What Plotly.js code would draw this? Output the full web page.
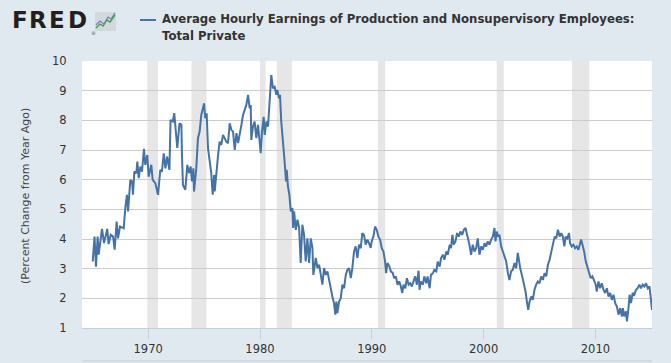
<!DOCTYPE html>
<html>
<head>
<meta charset="utf-8">
<script src="https://cdn.plot.ly/plotly-3.0.1.min.js"></script>
<style>
html,body{margin:0;padding:0;background:#e1e9f0;}
#chart{width:671px;height:363px;}
</style>
</head>
<body>
<div id="chart"></div>
<script>
// Dates as decimal years, values in percent change from year ago
const years = [
1965.04,1965.2,1965.33,1965.48,1965.57,1965.87,1966.05,1966.34,1966.46,1966.65,1966.86,1967.0,1967.18,1967.3,1967.48,1967.81,1967.95,
1968.1,1968.2,1968.4,1968.55,1968.64,1968.76,1968.94,1969.03,1969.15,1969.3,1969.45,1969.62,1969.74,1969.92,1970.04,1970.28,1970.4,
1970.64,1970.88,1971.08,1971.23,1971.39,1971.54,1971.69,1971.9,1972.0,1972.2,1972.33,1972.48,1972.6,1972.8,1972.97,1973.02,1973.11,
1973.32,1973.5,1973.65,1973.8,1973.92,1974.04,1974.1,1974.2,1974.3,1974.45,1974.6,1974.75,1974.9,1975.0,1975.1,1975.23,1975.35,1975.5,
1975.64,1975.77,1975.9,1975.95,1976.1,1976.25,1976.39,1976.54,1976.69,1976.84,1976.99,1977.14,1977.29,1977.44,1977.59,1977.74,1977.89,
1978.04,1978.19,1978.34,1978.48,1978.63,1978.78,1978.93,1979.08,1979.17,1979.22,1979.37,1979.52,1979.67,1979.82,1979.97,1980.06,1980.18,
1980.33,1980.42,1980.57,1980.72,1980.87,1981.01,1981.16,1981.31,1981.46,1981.55,1981.7,1981.79,1981.9,1982.0,1982.09,1982.18,1982.33,
1982.39,1982.5,1982.63,1982.75,1982.9,1982.96,1983.05,1983.2,1983.35,1983.5,1983.64,1983.79,1983.94,1984.09,1984.24,1984.39,1984.54,
1984.69,1984.77,1984.99,1985.14,1985.29,1985.43,1985.58,1985.73,1985.88,1986.03,1986.18,1986.33,1986.47,1986.62,1986.74,1986.83,1986.92,
1987.07,1987.22,1987.37,1987.52,1987.67,1987.82,1987.97,1988.12,1988.26,1988.41,1988.56,1988.71,1988.86,1989.01,1989.15,1989.3,1989.45,
1989.6,1989.75,1989.9,1989.99,1990.14,1990.29,1990.44,1990.59,1990.74,1990.89,1991.04,1991.19,1991.28,1991.4,1991.58,1991.7,1991.88,
1992.0,1992.15,1992.3,1992.45,1992.6,1992.72,1992.84,1992.99,1993.14,1993.29,1993.43,1993.58,1993.73,1993.88,1994.03,1994.18,1994.27,
1994.39,1994.57,1994.69,1994.87,1994.99,1995.17,1995.29,1995.47,1995.59,1995.77,1995.89,1996.07,1996.19,1996.37,1996.49,1996.67,1996.79,
1996.97,1997.09,1997.21,1997.33,1997.48,1997.63,1997.78,1997.93,1998.08,1998.23,1998.38,1998.58,1998.73,1998.88,1999.03,1999.18,1999.33,
1999.48,1999.63,1999.78,1999.93,2000.08,2000.23,2000.37,2000.52,2000.67,2000.82,2000.97,2001.06,2001.18,2001.3,2001.42,2001.57,2001.72,
2001.87,2002.02,2002.17,2002.31,2002.46,2002.61,2002.76,2002.91,2003.06,2003.15,2003.27,2003.45,2003.57,2003.75,2003.87,2003.99,2004.11,
2004.26,2004.4,2004.55,2004.7,2004.85,2005.0,2005.15,2005.3,2005.45,2005.6,2005.75,2005.9,2006.05,2006.2,2006.35,2006.5,2006.65,2006.8,
2006.94,2007.09,2007.22,2007.34,2007.49,2007.64,2007.73,2007.88,2008.03,2008.18,2008.33,2008.48,2008.63,2008.72,2008.84,2008.99,2009.14,
2009.29,2009.44,2009.58,2009.73,2009.88,2010.03,2010.12,2010.27,2010.42,2010.57,2010.72,2010.87,2011.02,2011.17,2011.32,2011.47,2011.62,
2011.77,2011.92,2012.07,2012.22,2012.37,2012.46,2012.58,2012.73,2012.82,2012.97,2013.06,2013.18,2013.33,2013.48,2013.63,2013.78,2013.93,
2014.08,2014.23,2014.38,2014.53,2014.68,2014.83,2014.92,2014.98,2015.06
];
const pctChange = [
3.24,4.08,3.07,4.08,3.47,4.34,3.86,4.34,3.83,4.14,4.08,3.64,4.59,4.02,4.42,4.36,5.04,
5.49,4.93,5.99,5.94,5.49,6.27,6.22,6.61,6.05,6.44,6.27,7.04,6.5,6.83,6.1,6.5,5.99,
5.88,5.49,6.33,6.27,6.89,6.38,6.78,6.33,8.01,7.96,8.24,7.4,7.07,7.9,7.85,6.83,5.82,
5.66,6.5,6.22,6.44,5.94,6.38,5.6,5.94,6.38,7.4,7.62,8.18,8.46,8.57,8.07,8.24,7.06,6.61,
6.22,5.49,6.16,5.6,6.38,6.83,7.28,7.17,7.51,7.4,7.28,7.23,7.9,7.68,7.62,7.0,7.57,
7.23,7.62,7.85,8.18,8.35,8.52,8.86,8.4,8.52,7.34,7.79,7.96,7.4,7.85,7.28,6.89,7.62,
8.12,7.51,7.96,7.79,8.74,9.53,9.08,9.13,8.86,9.02,8.74,8.86,7.96,7.4,7.06,6.72,5.94,
6.33,5.77,5.49,4.93,5.04,4.37,4.93,4.31,4.65,4.37,3.19,4.48,4.14,3.24,4.02,3.19,4.02,
3.69,2.79,3.36,3.02,3.13,2.79,2.46,3.02,2.79,2.91,2.57,2.34,2.06,1.84,1.45,1.89,1.5,
1.89,2.0,2.46,2.34,2.79,2.96,3.02,2.68,3.02,3.58,3.75,3.36,3.81,3.69,4.2,4.14,3.81,
3.98,3.86,3.7,3.92,4.08,4.42,4.31,4.08,3.98,3.69,3.58,3.24,2.85,3.19,3.07,2.91,2.85,
2.68,2.74,2.46,2.57,2.4,2.18,2.46,2.34,2.68,2.46,2.51,2.4,2.57,2.74,2.46,2.93,2.29,
2.57,2.46,2.74,2.51,2.74,2.34,2.79,2.85,2.96,2.91,3.24,3.07,3.36,3.47,3.3,3.58,3.47,
3.81,3.69,4.14,3.81,3.92,4.2,4.08,4.25,4.14,4.31,4.37,4.08,3.81,3.47,3.81,3.58,3.69,
4.02,3.47,3.75,3.64,3.86,3.75,3.92,3.81,3.98,4.08,4.37,3.92,4.25,4.08,4.14,3.75,3.58,
3.36,3.24,2.85,2.62,2.91,2.96,3.19,3.02,3.53,3.24,3.02,2.74,2.57,2.23,1.89,1.61,1.89,
2.06,1.95,2.29,2.46,2.57,2.51,2.74,2.62,2.85,2.74,3.13,3.3,3.58,3.92,4.08,4.02,4.31,4.08,
4.2,4.08,3.75,4.08,4.02,4.2,3.86,3.75,3.81,3.69,3.75,3.64,3.86,3.98,3.81,3.58,3.24,
3.02,2.79,2.68,2.74,2.57,2.46,2.23,2.57,2.34,2.51,2.29,2.18,2.34,2.06,2.18,1.95,2.12,
1.84,1.72,1.45,1.67,1.39,1.67,1.39,1.56,1.22,1.72,2.12,1.84,2.18,2.12,2.29,2.34,2.46,
2.34,2.46,2.4,2.51,2.34,2.4,2.12,1.89,1.61
];
const recessionStart = [1969.92, 1973.87, 1980.0, 1981.5, 1990.54, 2001.17, 2007.9];
const recessionEnd   = [1970.88, 1975.22, 1980.5, 1982.85, 1991.2, 2001.8, 2009.45];
const tickYears = [1970, 1980, 1990, 2000, 2010];
const seriesTitle1 = "Average Hourly Earnings of Production and Nonsupervisory Employees:";
const seriesTitle2 = "Total Private";
const yTitle = "(Percent Change from Year Ago)";

// pixel -> paper helpers for decorations (plot area 82..652 x 61..328)
const PL = 82, PR = 652, PT = 61, PB = 328;
const px = v => (v - PL) / (PR - PL);
const py = v => (PB - v) / (PB - PT);

const shapes = recessionStart.map((s, i) => ({
  type: 'rect', xref: 'x', yref: 'paper', x0: s, x1: recessionEnd[i], y0: 0, y1: 1,
  fillcolor: '#e6e6e6', line: {width: 0}, layer: 'below'
}));
// legend line sample
shapes.push({type:'line', xref:'paper', yref:'paper', x0:px(140), x1:px(156), y0:py(20), y1:py(20),
  line:{color:'#4572a7', width:2}});
// FRED icon
shapes.push({type:'rect', xref:'paper', yref:'paper', x0:px(95), x1:px(116), y0:py(31), y1:py(12),
  fillcolor:'#d3d8dc', line:{width:0}});
shapes.push({type:'path', xref:'paper', yref:'paper',
  path:`M ${px(96)} ${py(28)} L ${px(100)} ${py(24)} L ${px(103)} ${py(26)} L ${px(107)} ${py(20)} L ${px(110)} ${py(22)} L ${px(115)} ${py(15)}`,
  line:{color:'#4a9a3c', width:1.3}});
shapes.push({type:'path', xref:'paper', yref:'paper',
  path:`M ${px(96)} ${py(25)} L ${px(100)} ${py(21)} L ${px(104)} ${py(24)} L ${px(108)} ${py(17)} L ${px(111)} ${py(19)} L ${px(115)} ${py(13)}`,
  line:{color:'#5b87b8', width:1.1}});
// navigator line at bottom
shapes.push({type:'line', xref:'paper', yref:'paper', x0:px(82), x1:px(652), y0:py(361), y1:py(361),
  line:{color:'#c4ccd4', width:1}});

const annotations = [];
const fredLetters = ['F','R','E','D'];
const fredX = [19.5, 37.8, 57.2, 77.6];
fredLetters.forEach((l, i) => annotations.push({
  text: '<b>' + l + '</b>', xref:'paper', yref:'paper', x: px(fredX[i]), y: py(20.5), xanchor:'center', yanchor:'middle',
  showarrow:false, font:{family:'DejaVu Sans', size:23, color:'#231f20'}
}));
annotations.push({text:'®', xref:'paper', yref:'paper', x:px(89), y:py(28), showarrow:false,
  font:{family:'DejaVu Sans', size:5, color:'#555'}});
annotations.push({text:'<b>'+seriesTitle1+'</b>', xref:'paper', yref:'paper', x:px(160), y:py(19),
  xanchor:'left', yanchor:'middle', showarrow:false, font:{family:'DejaVu Sans', size:11.7, color:'#333333'}});
annotations.push({text:'<b>'+seriesTitle2+'</b>', xref:'paper', yref:'paper', x:px(160), y:py(35.5),
  xanchor:'left', yanchor:'middle', showarrow:false, font:{family:'DejaVu Sans', size:11.7, color:'#333333'}});
annotations.push({text:yTitle, xref:'paper', yref:'paper', x:px(25), y:py(196), textangle:-90,
  xanchor:'center', yanchor:'middle', showarrow:false, font:{family:'DejaVu Sans', size:11, color:'#444444'}});

const trace = {
  x: years, y: pctChange, type:'scatter', mode:'lines',
  line:{color:'#4572a7', width:2}, hoverinfo:'x+y', showlegend:false
};

const layout = {
  width:671, height:363,
  margin:{l:PL, r:671-PR, t:PT, b:363-PB, pad:0},
  paper_bgcolor:'#e1e9f0', plot_bgcolor:'#ffffff',
  xaxis:{range:[1964.08, 2015.06], tickvals:tickYears, ticktext:tickYears.map(String),
    showgrid:false, zeroline:false, showline:true, linecolor:'#c0d0e0', linewidth:1,
    ticks:'outside', ticklen:10, tickcolor:'#c0d0e0', tickwidth:1,
    tickfont:{family:'DejaVu Sans', size:11.5, color:'#333333'}},
  yaxis:{range:[1,10], dtick:1, tick0:1, showgrid:true, gridcolor:'#cccccc', gridwidth:1,
    zeroline:false, showline:false, ticks:'outside', ticklen:12, tickcolor:'rgba(0,0,0,0)',
    tickfont:{family:'DejaVu Sans', size:11.5, color:'#333333'}},
  shapes: shapes, annotations: annotations, showlegend:false
};

Plotly.newPlot('chart', [trace], layout, {displayModeBar:false, staticPlot:true});
</script>
</body>
</html>
